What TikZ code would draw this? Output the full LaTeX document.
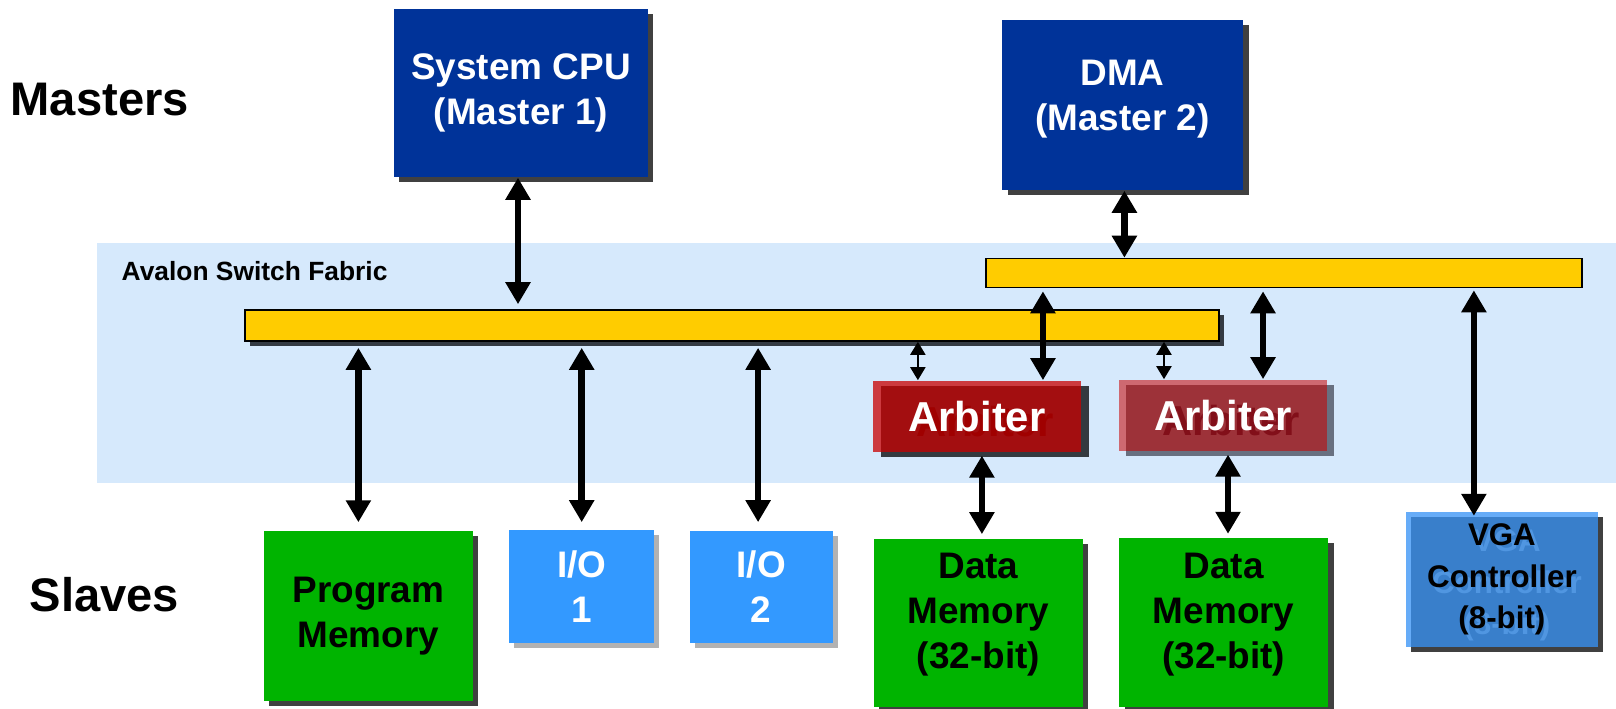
\documentclass[tikz,border=0pt]{standalone}
\usepackage{fontspec}
\setmainfont{Liberation Sans}
\usetikzlibrary{arrows.meta}

\definecolor{masterblue}{RGB}{0,51,153}
\definecolor{memgreen}{RGB}{0,180,0}
\definecolor{ioblue}{RGB}{51,153,255}
\definecolor{vgablue}{RGB}{56,147,246}
\definecolor{vgashade}{RGB}{80,150,225}
\definecolor{busyellow}{RGB}{255,204,0}
\definecolor{fabric}{RGB}{214,233,252}
\definecolor{shadowgrey}{RGB}{64,64,64}
\definecolor{busshadow}{RGB}{52,58,66}
\definecolor{ioshadow}{RGB}{178,178,178}
\definecolor{arbred}{RGB}{201,0,0}
\definecolor{arbshadowA}{RGB}{52,58,64}
\definecolor{arbshadowB}{RGB}{104,112,128}
\definecolor{arbtextA}{RGB}{160,0,0}
\definecolor{arbtextB}{RGB}{130,15,25}

\newcommand{\sidefont}{\fontsize{13.4}{16}\selectfont\bfseries}
\newcommand{\boxfont}{\fontsize{10.5}{12.8}\selectfont\bfseries}
\newcommand{\arbfont}{\fontsize{11.9}{14}\selectfont\bfseries}
\newcommand{\vgafont}{\fontsize{8.9}{11.8}\selectfont\bfseries}
\newcommand{\fabricfont}{\fontsize{7.5}{9}\selectfont\bfseries}

\tikzset{
	unit/.style={rectangle, inner sep=0pt, align=center, font=\boxfont},
	bus/.style={rectangle, inner sep=0pt, fill=busyellow, draw=black, line width=0.45pt},
	arbiter/.style={unit, fill=arbred, minimum width=2.08cm, minimum height=0.71cm},
	castshadow/.style 2 args={preaction={fill=#1, fill opacity=1, draw=none, transform canvas={shift={(#2,-0.05cm)}}}},
	arbtext/.style={unit, font=\arbfont, text=white, text opacity=1, fill opacity=1},
	vgatext/.style={unit, font=\vgafont, text=black, text opacity=1, fill opacity=1},
	sidetext/.style={inner sep=0pt, anchor=west, font=\sidefont},
	bigarrow/.style={<->, >={Triangle[width=0.24cm,length=0.22cm]}, line width=0.067cm},
	smallarrow/.style={<->, >={Triangle[width=0.15cm,length=0.13cm]}, line width=0.6pt}
}

\begin{document}
\begin{tikzpicture}[x=0.01cm, y=-0.01cm, line join=miter]
	\useasboundingbox (0,0) rectangle (1616,708);
	
	%switch fabric
	\fill[fabric] (97,243) rectangle (1616,482.5);
	\node[inner sep=0pt, anchor=west, font=\fabricfont] (fabriclabel) at (121,271) {Avalon Switch Fabric};
	
	\node[sidetext] (masters) at (10,100) {Masters};
	\node[sidetext] (slaves) at (29,595) {Slaves};
	
	%masters
	\node[unit, fill=masterblue, text=white, minimum width=2.54cm, minimum height=1.68cm, castshadow={shadowgrey}{0.05cm}] (cpu) at (521,93) {System CPU\\(Master 1)};
	\node[unit, fill=masterblue, minimum width=2.41cm, minimum height=1.70cm, castshadow={shadowgrey}{0.06cm},
		label={[unit, text=white, yshift=0.06cm]center:DMA\\(Master 2)}] (dma) at (1122.4,105) {};
	
	%buses
	\node[bus, minimum width=9.73cm, minimum height=0.31cm, castshadow={busshadow}{0.05cm}] (bus1) at (732,325.5) {};
	\node[bus, minimum width=5.96cm, minimum height=0.29cm] (bus2) at (1283.9,273) {};
	
	%arbiters
	\node[arbiter, fill opacity=0.75, castshadow={arbshadowA}{0.08cm},
		label={[arbtext, text=arbtextA, shift={(0.08cm,-0.05cm)}]center:Arbiter},
		label={[arbtext]center:Arbiter}] (arb1) at (976.9,416.4) {};
	\node[arbiter, fill opacity=0.55, castshadow={arbshadowB}{0.074cm},
		label={[arbtext, text=arbtextB, shift={(0.08cm,-0.05cm)}]center:Arbiter},
		label={[arbtext]center:Arbiter}] (arb2) at (1223,415.4) {};
	
	%slaves
	\node[unit, fill=memgreen, minimum width=2.09cm, minimum height=1.70cm, castshadow={shadowgrey}{0.05cm}] (pm) at (368.4,616) {Program\\Memory};
	\node[unit, fill=ioblue, text=white, minimum width=1.45cm, minimum height=1.13cm, castshadow={ioshadow}{0.05cm}] (io1) at (581.7,586.4) {I/O\\1};
	\node[unit, fill=ioblue, text=white, minimum width=1.43cm, minimum height=1.12cm, castshadow={ioshadow}{0.05cm}] (io2) at (761.1,586.9) {I/O\\2};
	\node[unit, fill=memgreen, minimum width=2.09cm, minimum height=1.68cm, castshadow={shadowgrey}{0.05cm},
		label={[unit, yshift=0.08cm]center:Data\\Memory\\(32-bit)}] (dm1) at (978.4,622.9) {};
	\node[unit, fill=memgreen, minimum width=2.09cm, minimum height=1.68cm, castshadow={shadowgrey}{0.06cm},
		label={[unit, yshift=0.08cm]center:Data\\Memory\\(32-bit)}] (dm2) at (1223.7,622.5) {};
	\node[unit, fill=vgablue, fill opacity=0.77, minimum width=1.92cm, minimum height=1.34cm, castshadow={shadowgrey}{0.05cm},
		label={[vgatext, text=vgashade, shift={(0.05cm,-0.06cm)}]center:VGA\\Controller\\(8-bit)},
		label={[vgatext]center:VGA\\Controller\\(8-bit)}] (vga) at (1501.9,579.5) {};
	
	%connections
	\draw[bigarrow] ([xshift=-0.03cm]cpu.south) -- ([xshift=-0.03cm,yshift=0.05cm]cpu.south |- bus1.north);
	\draw[bigarrow] ([xshift=0.02cm]dma.south) -- ([xshift=0.02cm]dma.south |- bus2.north);
	
	\draw[bigarrow] ([xshift=0.66cm,yshift=-0.03cm]arb1.north |- bus2.south) -- ([xshift=0.66cm]arb1.north);
	\draw[bigarrow] ([xshift=0.4cm,yshift=-0.03cm]arb2.north |- bus2.south) -- ([xshift=0.4cm]arb2.north);
	\draw[bigarrow] ([xshift=-0.28cm,yshift=-0.02cm]vga.north |- bus2.south) -- ([xshift=-0.28cm,yshift=-0.04cm]vga.north);
	
	\draw[bigarrow] ([xshift=-0.1cm,yshift=-0.06cm]pm.north |- bus1.south) -- ([xshift=-0.1cm,yshift=0.08cm]pm.north);
	\draw[bigarrow] ([yshift=-0.06cm]io1.north |- bus1.south) -- ([yshift=0.07cm]io1.north);
	\draw[bigarrow] ([xshift=-0.03cm,yshift=-0.06cm]io2.north |- bus1.south) -- ([xshift=-0.03cm,yshift=0.08cm]io2.north);
	
	\draw[smallarrow] ([xshift=-0.59cm]arb1.north |- bus1.south) -- ([xshift=-0.59cm]arb1.north);
	\draw[smallarrow] ([xshift=-0.59cm]arb2.north |- bus1.south) -- ([xshift=-0.59cm]arb2.north);
	
	\draw[bigarrow] ([xshift=0.05cm,yshift=-0.03cm]arb1.south) -- ([xshift=0.05cm,yshift=0.04cm]arb1.south |- dm1.north);
	\draw[bigarrow] ([xshift=0.05cm,yshift=-0.03cm]arb2.south) -- ([xshift=0.05cm,yshift=0.04cm]arb2.south |- dm2.north);
\end{tikzpicture}
\end{document}
